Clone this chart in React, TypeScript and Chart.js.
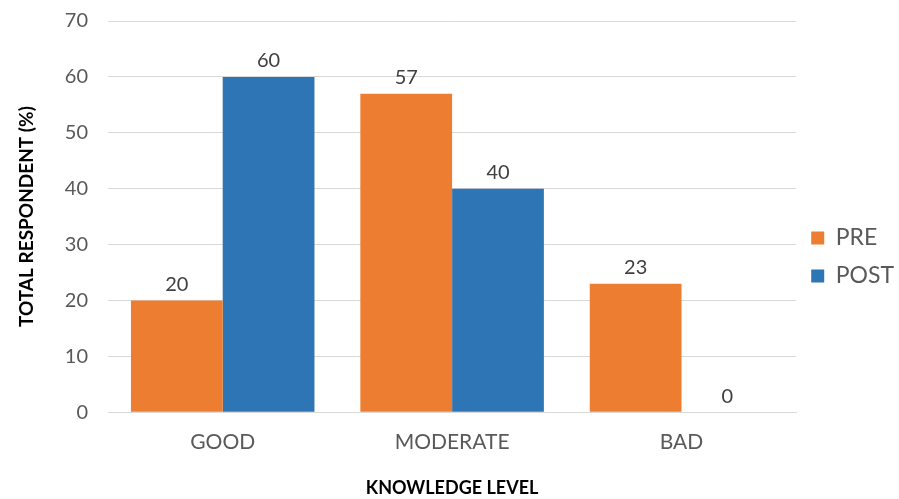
import React, { useEffect, useRef } from "react";
import { Chart, registerables } from "chart.js";

Chart.register(...registerables);

const categories = ["GOOD", "MODERATE", "BAD"];
const preValues = [20, 57, 23];
const postValues = [60, 40, 0];
const yTicks = [0, 10, 20, 30, 40, 50, 60, 70];

const FONT = "Lato, 'Open Sans', sans-serif";

const valueLabels = {
  id: "valueLabels",
  afterDatasetsDraw(chart: any) {
    const ctx = chart.ctx;
    ctx.save();
    ctx.fillStyle = "#404040";
    ctx.font = `20px ${FONT}`;
    ctx.textAlign = "center";
    ctx.textBaseline = "bottom";
    chart.data.datasets.forEach((ds: any, di: number) => {
      const meta = chart.getDatasetMeta(di);
      meta.data.forEach((bar: any, i: number) => {
        ctx.fillText(String(ds.data[i]), bar.x, bar.y - 6);
      });
    });
    ctx.restore();
  },
};

export default function App() {
  const ref = useRef<HTMLCanvasElement>(null);
  useEffect(() => {
    const chart = new Chart(ref.current!, {
      type: "bar",
      data: {
        labels: categories,
        datasets: [
          { label: "PRE", data: preValues, backgroundColor: "#ED7D31" },
          { label: "POST", data: postValues, backgroundColor: "#2E75B6" },
        ],
      },
      options: {
        animation: false,
        responsive: false,
        maintainAspectRatio: false,
        layout: { padding: { top: 3, left: 15, right: -5, bottom: 0 } },
        datasets: { bar: { categoryPercentage: 0.8, barPercentage: 1 } },
        plugins: {
          legend: {
            position: "right",
            title: { display: true, text: " ", font: { size: 10 }, padding: 0 },
            labels: {
              boxWidth: 13,
              boxHeight: 13,
              padding: 15,
              color: "#595959",
              font: { family: FONT, size: 23 },
            },
          },
          tooltip: { enabled: false },
        },
        scales: {
          x: {
            grid: { display: false },
            border: { display: true, color: "#d9d9d9" },
            ticks: { color: "#595959", font: { family: FONT, size: 21 }, padding: 9 },
            title: {
              display: true,
              text: "KNOWLEDGE LEVEL",
              color: "#000",
              font: { family: FONT, size: 18, weight: "bold" },
              padding: { top: 14, bottom: 0 },
            },
          },
          y: {
            min: 0,
            max: 70,
            afterBuildTicks(axis: any) {
              axis.ticks = yTicks.map((v) => ({ value: v }));
            },
            afterFit(axis: any) {
              axis.width = 93;
            },
            grid: { color: "#d9d9d9", drawTicks: true, tickLength: 11, tickColor: "rgba(0,0,0,0)" },
            border: { display: false },
            ticks: { color: "#595959", font: { family: FONT, size: 20 }, padding: 9 },
            title: {
              display: true,
              text: "TOTAL RESPONDENT (%)",
              color: "#000",
              font: { family: FONT, size: 19, weight: "bold" },
              padding: { top: 0, bottom: 10 },
            },
          },
        },
      },
      plugins: [valueLabels],
    });
    return () => chart.destroy();
  }, []);
  return (
    <div style={{ position: "fixed", left: 0, top: 0, width: 899, height: 499, background: "#fff" }}>
      <canvas ref={ref} width={899} height={499} />
    </div>
  );
}
